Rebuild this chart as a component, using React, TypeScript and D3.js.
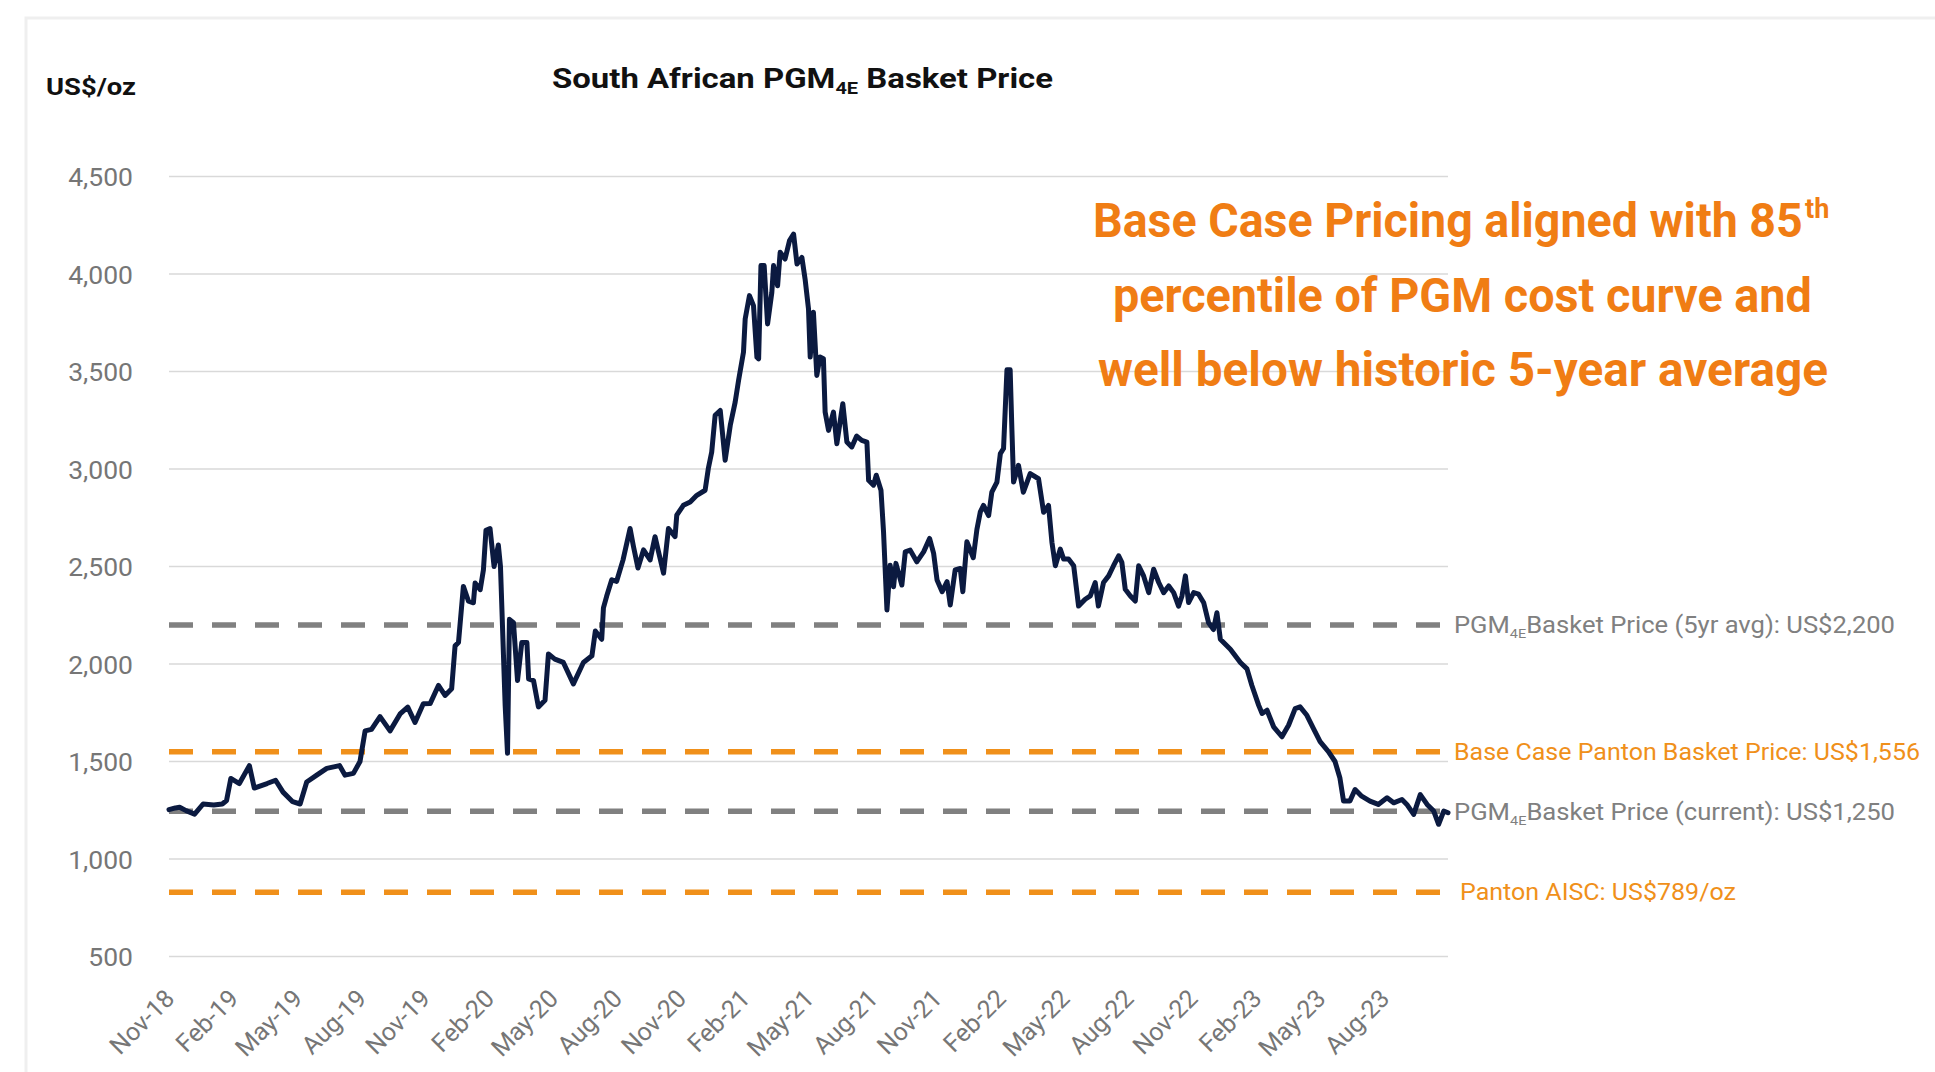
import React, { useLayoutEffect, useRef, useState } from 'react';
import * as d3 from 'd3';

// months since Nov-18, basket price US$/oz
const basketPrice: [number, number][] = [
  [0.0, 1253], [0.3, 1262], [0.5, 1265], [0.8, 1248], [1.2, 1230], [1.6, 1282], [2.1, 1277],
  [2.5, 1282], [2.7, 1300], [2.9, 1413], [3.3, 1387], [3.77, 1479], [4.0, 1364], [4.6, 1387],
  [5.0, 1404], [5.35, 1343], [5.8, 1294], [6.15, 1282], [6.46, 1395], [6.93, 1430], [7.4, 1465],
  [8.0, 1479], [8.26, 1430], [8.65, 1439], [8.96, 1500], [9.2, 1657], [9.5, 1665], [9.9, 1730],
  [10.37, 1657], [10.84, 1744], [11.2, 1779], [11.54, 1700], [11.93, 1796], [12.25, 1797],
  [12.64, 1890], [12.95, 1839], [13.26, 1873], [13.42, 2093], [13.58, 2110], [13.81, 2398],
  [14.05, 2322], [14.28, 2314], [14.36, 2415], [14.6, 2381], [14.75, 2483], [14.87, 2686],
  [15.06, 2695], [15.25, 2500], [15.45, 2610], [15.55, 2500], [15.77, 1788], [15.88, 1542],
  [15.97, 2229], [16.16, 2212], [16.35, 1915], [16.55, 2110], [16.79, 2110], [16.87, 1924],
  [17.1, 1915], [17.33, 1780], [17.64, 1814], [17.8, 2051], [18.1, 2025], [18.5, 2008],
  [18.97, 1898], [19.44, 2008], [19.84, 2042], [20.0, 2169], [20.3, 2127], [20.38, 2288],
  [20.53, 2347], [20.77, 2432], [21.0, 2424], [21.3, 2534], [21.63, 2695], [21.79, 2602],
  [22.0, 2492], [22.26, 2585], [22.57, 2534], [22.8, 2653], [23.0, 2559], [23.2, 2466],
  [23.43, 2695], [23.74, 2653], [23.82, 2763], [24.13, 2814], [24.45, 2831], [24.76, 2865],
  [25.15, 2891], [25.3, 3002], [25.46, 3087], [25.62, 3275], [25.86, 3300], [26.09, 3045],
  [26.33, 3224], [26.56, 3343], [26.72, 3454], [26.95, 3599], [27.03, 3770], [27.23, 3889],
  [27.42, 3838], [27.58, 3573], [27.66, 3565], [27.77, 4043], [27.92, 4043], [28.08, 3744],
  [28.28, 3906], [28.36, 4043], [28.55, 3940], [28.67, 4111], [28.9, 4077], [29.11, 4171],
  [29.3, 4205], [29.46, 4051], [29.69, 4085], [29.84, 3974], [30.0, 3821], [30.08, 3574],
  [30.23, 3804], [30.39, 3480], [30.54, 3574], [30.7, 3565], [30.78, 3292], [30.94, 3198],
  [31.17, 3292], [31.33, 3130], [31.61, 3335], [31.8, 3138], [32.03, 3113], [32.26, 3169],
  [32.5, 3147], [32.74, 3138], [32.82, 2942], [33.05, 2917], [33.18, 2968], [33.4, 2891],
  [33.52, 2678], [33.68, 2277], [33.83, 2507], [33.99, 2396], [34.1, 2516], [34.38, 2405],
  [34.54, 2575], [34.77, 2584], [35.08, 2524], [35.4, 2575], [35.68, 2644], [35.87, 2567],
  [36.03, 2431], [36.27, 2371], [36.5, 2422], [36.65, 2303], [36.88, 2482], [37.12, 2490],
  [37.24, 2371], [37.43, 2627], [37.73, 2545], [37.9, 2690], [38.06, 2780], [38.21, 2813],
  [38.45, 2761], [38.6, 2881], [38.84, 2933], [39.0, 3079], [39.15, 3105], [39.31, 3509],
  [39.46, 3509], [39.54, 3208], [39.62, 2933], [39.85, 3019], [40.08, 2881], [40.4, 2976],
  [40.79, 2950], [41.03, 2778], [41.26, 2813], [41.42, 2624], [41.58, 2504], [41.81, 2589],
  [41.97, 2538], [42.2, 2538], [42.44, 2504], [42.67, 2297], [42.98, 2332], [43.22, 2349],
  [43.45, 2418], [43.6, 2297], [43.84, 2418], [44.08, 2452], [44.31, 2504], [44.55, 2555],
  [44.7, 2521], [44.86, 2383], [45.1, 2349], [45.33, 2323], [45.49, 2504], [45.72, 2452],
  [45.96, 2366], [46.19, 2486], [46.43, 2418], [46.66, 2366], [46.9, 2400], [47.13, 2366],
  [47.36, 2297], [47.52, 2349], [47.68, 2452], [47.83, 2315], [48.07, 2366], [48.3, 2358],
  [48.54, 2314], [48.77, 2211], [49.0, 2177], [49.16, 2263], [49.32, 2127], [49.79, 2076],
  [50.26, 2008], [50.57, 1975], [50.8, 1890], [51.12, 1788], [51.28, 1746], [51.51, 1763],
  [51.82, 1678], [52.21, 1627], [52.52, 1686], [52.83, 1771], [53.06, 1780], [53.38, 1737],
  [53.69, 1669], [54.0, 1602], [54.39, 1551], [54.7, 1500], [54.93, 1415], [55.1, 1297],
  [55.4, 1297], [55.64, 1356], [55.95, 1322], [56.34, 1297], [56.73, 1280], [57.14, 1314],
  [57.45, 1288], [57.84, 1305], [58.07, 1280], [58.39, 1229], [58.7, 1330], [59.02, 1280],
  [59.33, 1246], [59.56, 1178], [59.8, 1246], [60.0, 1237],
];

const yTicks = [500, 1000, 1500, 2000, 2500, 3000, 3500, 4000, 4500];
const xTickLabels = ['Nov-18', 'Feb-19', 'May-19', 'Aug-19', 'Nov-19', 'Feb-20', 'May-20',
  'Aug-20', 'Nov-20', 'Feb-21', 'May-21', 'Aug-21', 'Nov-21', 'Feb-22', 'May-22', 'Aug-22',
  'Nov-22', 'Feb-23', 'May-23', 'Aug-23'];
const xTickMonths = [0, 3, 6, 9, 12, 15, 18, 21, 24, 27, 30, 33, 36, 39, 42, 45, 48, 51, 54, 57];

// horizontal reference lines: plotted level and label text
const refValues = [2200, 1550, 1245, 830];
const refLabels = [
  ['PGM', '4E', 'Basket Price (5yr avg): US$2,200'],
  ['Base Case Panton Basket Price: US$1,556', '', ''],
  ['PGM', '4E', 'Basket Price (current): US$1,250'],
  ['Panton AISC: US$789/oz', '', ''],
];

const noteLines = [
  'Base Case Pricing aligned with 85',
  'percentile of PGM cost curve and',
  'well below historic 5-year average',
];

const GRAY = '#808080';
const ORANGE = '#F0901A';
const NOTE_ORANGE = '#F07D14';
const NAVY = '#0B1A40';
const refColors = [GRAY, ORANGE, GRAY, ORANGE];
const refLabelX = [1454, 1454, 1454, 1460];
const refLabelW = [441, 466, 441, 276];
const noteX = [1093, 1113, 1098];
const noteW = [710, 699, 730];
const noteY = [237, 312, 386];

const font = 'Roboto, "Open Sans", sans-serif';

export default function App() {
  const noteRefs = useRef<(SVGTextElement | null)[]>([]);
  const [noteScale, setNoteScale] = useState([1, 1, 1]);

  // squeeze the annotation lines horizontally to the reference widths
  useLayoutEffect(() => {
    setNoteScale(noteRefs.current.map((el, i) => (el ? noteW[i] / el.getComputedTextLength() : 1)));
  }, []);

  const x = d3.scaleLinear().domain([0, 60]).range([169, 1448]);
  const y = d3.scaleLinear().domain([500, 4500]).range([956.5, 176.5]);

  const line = d3.line<[number, number]>()
    .x(d => x(d[0]))
    .y(d => y(d[1]));

  return (
    <svg width={1935} height={1072} style={{ position: 'absolute', left: 0, top: 0, background: '#fff' }}
      fontFamily={font}>
      <rect x={26} y={18} width={1940} height={1100} fill="none" stroke="#efefef" strokeWidth={3} />

      {/* gridlines */}
      {yTicks.map(t => (
        <line key={t} x1={x(0)} x2={x(60)} y1={y(t)} y2={y(t)} stroke="#d9d9d9" strokeWidth={1.6} />
      ))}
      {yTicks.map(t => (
        <text key={'l' + t} x={133} y={y(t)} dy="0.36em" textAnchor="end" fontSize={26.5} fill="#767676">
          {d3.format(',')(t)}
        </text>
      ))}

      {/* x tick labels */}
      {xTickLabels.map((lab, i) => (
        <text key={lab} transform={`translate(${x(xTickMonths[i]) + 7},${1000}) rotate(-45)`}
          textAnchor="end" fontSize={25} fill="#767676">
          {lab}
        </text>
      ))}

      {/* reference lines */}
      {refValues.map((v, i) => (
        <line key={'r' + v} x1={x(0)} x2={x(60)} y1={y(v)} y2={y(v)}
          stroke={refColors[i]} strokeWidth={5.5} strokeDasharray="24 19" />
      ))}

      <path d={line(basketPrice) || ''} fill="none" stroke={NAVY} strokeWidth={5}
        strokeLinejoin="round" strokeLinecap="round" />

      {refValues.map((v, i) => (
        <text key={'rl' + v} x={refLabelX[i]} y={y(v)} dy="0.36em" fontSize={23} fill={refColors[i]}
          textLength={refLabelW[i]} lengthAdjust="spacingAndGlyphs">
          {refLabels[i][0]}
          {refLabels[i][1] && <tspan fontSize={13} dy={5}>{refLabels[i][1]}</tspan>}
          {refLabels[i][2] && <tspan dy={-5}>{refLabels[i][2]}</tspan>}
        </text>
      ))}

      {/* titles */}
      <text x={46} y={95} fontSize={24} fontWeight="bold" fill="#111" textLength={90}
        lengthAdjust="spacingAndGlyphs">US$/oz</text>
      <text x={552} y={88} fontSize={28} fontWeight="bold" fill="#111" textLength={501}
        lengthAdjust="spacingAndGlyphs">
        South African PGM<tspan fontSize={17} dy={6}>4E</tspan><tspan dy={-6}> Basket Price</tspan>
      </text>

      {/* annotation */}
      {noteLines.map((s, i) => (
        <text key={s} ref={el => { noteRefs.current[i] = el; }}
          transform={`translate(${noteX[i]},${noteY[i]}) scale(${noteScale[i]},1)`}
          fontSize={48} fontWeight="bold" fill={NOTE_ORANGE}>
          {s}
        </text>
      ))}
      <text x={1805} y={noteY[0] - 19} fontSize={27} fontWeight="bold" fill={NOTE_ORANGE}>th</text>
    </svg>
  );
}
